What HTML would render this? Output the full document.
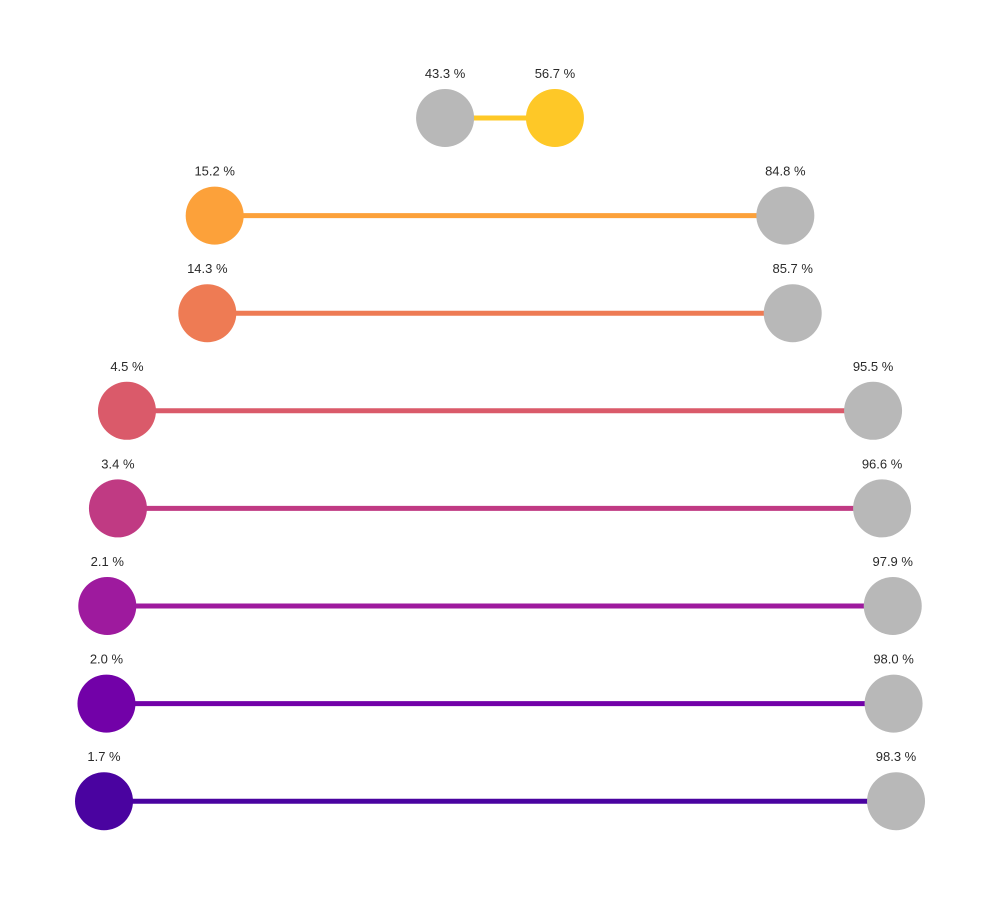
<!DOCTYPE html>
<html><head><meta charset="utf-8"><style>
body{margin:0;background:#fff;}
svg text{font-family:"Liberation Sans",sans-serif;font-size:13px;fill:#2a2a2a;text-anchor:middle;}
</style></head><body>
<svg id="chart" width="1000" height="900" xmlns="http://www.w3.org/2000/svg"></svg>
<script>
const categories = ["r1","r2","r3","r4","r5","r6","r7","r8"];
const coloredValues = [56.7, 15.2, 14.3, 4.5, 3.4, 2.1, 2.0, 1.7];
const greyValues = [43.3, 84.8, 85.7, 95.5, 96.6, 97.9, 98.0, 98.3];
const colors = ["#fec827","#fca13a","#ee7b54","#da5a6a","#c03a83","#9e1a9e","#7201a8","#4a03a0"];

const svg = document.getElementById('chart');
const NS = "http://www.w3.org/2000/svg";
function xScale(v){ return 90.06 + v * 8.199; }
function yScale(i){ return 118 + i * 97.6; }
function mk(tag, attrs){ const e=document.createElementNS(NS,tag); for(const k in attrs) e.setAttribute(k,attrs[k]); svg.appendChild(e); return e; }

categories.forEach((c,i)=>{
  const y=yScale(i), xc=xScale(coloredValues[i]), xg=xScale(greyValues[i]);
  const line=mk('line',{x1:xc,y1:y,x2:xg,y2:y,stroke:colors[i],'stroke-width':5});
  
  
  const g=mk('circle',{cx:xg,cy:y,r:29,fill:'#b8b8b8'});
  
  
  const d=mk('circle',{cx:xc,cy:y,r:29,fill:colors[i]});
  
  
  const t1=mk('text',{x:xc,y:y-40});
  t1.textContent=coloredValues[i].toFixed(1)+' %';
  
  
  const t2=mk('text',{x:xg,y:y-40});
  t2.textContent=greyValues[i].toFixed(1)+' %';
  
  
});
</script>
</body></html>
